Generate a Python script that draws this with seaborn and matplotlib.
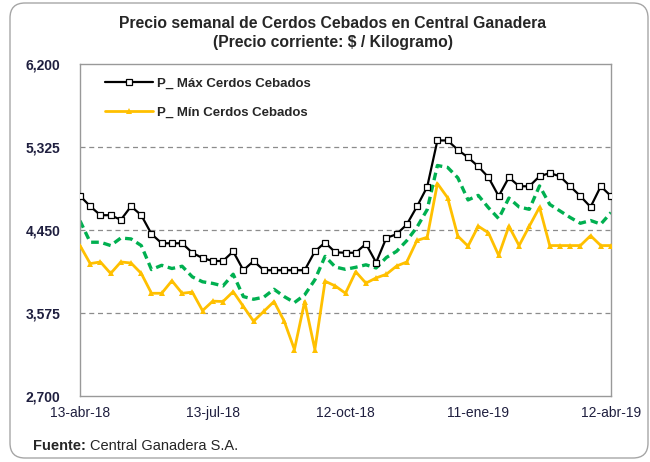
import pandas as pd
import matplotlib.pyplot as plt
import seaborn as sns
from matplotlib.patches import FancyBboxPatch
from matplotlib.ticker import FuncFormatter

# datos semanales (precio $/kg)
precio_max = [4810, 4700, 4606, 4606, 4557, 4700, 4606, 4408, 4310, 4310, 4310, 4210, 4154,
              4123, 4123, 4224, 4026, 4123, 4026, 4026, 4026, 4026, 4026, 4224, 4318, 4215,
              4210, 4210, 4304, 4107, 4367, 4405, 4508, 4698, 4905, 5394, 5394, 5295, 5215,
              5120, 5005, 4807, 5005, 4911, 4911, 5016, 5050, 5016, 4911, 4807, 4693, 4911, 4807]
precio_min = [4286, 4096, 4113, 3992, 4113, 4102, 3992, 3783, 3783, 3915, 3783, 3795, 3600,
              3700, 3696, 3800, 3644, 3488, 3592, 3696, 3488, 3190, 3696, 3190, 3910, 3860,
              3783, 4010, 3890, 3945, 3983, 4070, 4113, 4340, 4373, 4940, 4790, 4385, 4280,
              4490, 4420, 4182, 4490, 4286, 4490, 4690, 4286, 4286, 4286, 4286, 4390, 4286, 4286]
precio_prom = [4547, 4321, 4321, 4286, 4366, 4356, 4286, 4033, 4078, 4044, 4068, 3956, 3904,
               3887, 3860, 3984, 3748, 3720, 3742, 3825, 3748, 3685, 3766, 3925, 4172, 4060,
               4035, 4057, 4083, 4050, 4160, 4225, 4338, 4480, 4665, 5130, 5110, 5000, 4767,
               4815, 4685, 4570, 4787, 4693, 4668, 4915, 4720, 4651, 4582, 4521, 4550, 4512, 4634]
fecha_inicio = '2018-04-13'
etiquetas_x = ['13-abr-18', '13-jul-18', '12-oct-18', '11-ene-19', '12-abr-19']
pos_etiquetas = [0, 13, 26, 39, 52]
ticks_y = [2700, 3575, 4450, 5325, 6200]
nombre_max = 'P_ Máx Cerdos Cebados'
nombre_min = 'P_ Mín Cerdos Cebados'

fechas = pd.date_range(fecha_inicio, periods=len(precio_max), freq='7D')
df = pd.DataFrame({'fecha': fechas, 'max': precio_max, 'min': precio_min, 'prom': precio_prom})

sns.set_theme(style='white')
plt.rcParams['font.family'] = ['Liberation Sans', 'DejaVu Sans']

fig = plt.figure(figsize=(6.5, 4.62), dpi=100)
ax = fig.add_axes([80 / 650, 1 - 396 / 462, 531 / 650, 332 / 462])

sns.lineplot(data=df, x='fecha', y='prom', ax=ax, color='#00B050', lw=2.4,
             linestyle=(0, (2.3, 1.4)), legend=False, zorder=2)
sns.lineplot(data=df, x='fecha', y='min', ax=ax, color='#FFC000', lw=2.0, marker='^',
             markersize=4.5, markeredgewidth=0, label=nombre_min, zorder=3)
sns.lineplot(data=df, x='fecha', y='max', ax=ax, color='black', lw=1.6, marker='s',
             markersize=4.6, markerfacecolor='white', markeredgecolor='black',
             markeredgewidth=0.9, label=nombre_max, zorder=4)

ax.set_xlim(fechas[0], fechas[-1])
ax.set_ylim(ticks_y[0], ticks_y[-1])
ax.set_yticks(ticks_y)
ax.yaxis.set_major_formatter(FuncFormatter(lambda v, p: f'{int(v):,}'))
ax.set_xticks(fechas[pos_etiquetas])
ax.set_xticklabels(etiquetas_x)
ax.set_xlabel('')
ax.set_ylabel('')
for y in ticks_y[1:-1]:
    ax.axhline(y, color='#8c8c8c', lw=0.9, ls=(0, (4, 3)), zorder=1)
for s in ax.spines.values():
    s.set_color('#999999')
    s.set_linewidth(1.0)
ax.tick_params(axis='both', which='major', direction='out', length=4, width=0.8,
               color='#999999', pad=3)
for t in ax.get_xticklabels():
    t.set_fontsize(10)
    t.set_color('#1f1f3f')
for t in ax.get_yticklabels():
    t.set_fontsize(10)
    t.set_fontweight('bold')
    t.set_color('#1f1f3f')
ax.tick_params(axis='y', pad=10)

h, l = ax.get_legend_handles_labels()
orden = [l.index(nombre_max), l.index(nombre_min)]
ax.legend([h[i] for i in orden], [l[i] for i in orden], loc='upper left',
          bbox_to_anchor=(0.048, 0.96), frameon=False, borderpad=0, borderaxespad=0,
          handlelength=3.6, handletextpad=0.3, labelspacing=1.3,
          prop={'weight': 'bold', 'size': 9.5})

fig.text(0.512, 1 - 24 / 462, 'Precio semanal de Cerdos Cebados en Central Ganadera',
         ha='center', va='center', fontsize=11.3, fontweight='bold')
fig.text(0.512, 1 - 43 / 462, '(Precio corriente: $ / Kilogramo)',
         ha='center', va='center', fontsize=11.3, fontweight='bold')
fig.text(33 / 650, 1 - 446 / 462, 'Fuente:', ha='left', va='center', fontsize=10.5,
         fontweight='bold')
fig.text(90 / 650, 1 - 446 / 462, 'Central Ganadera S.A.', ha='left', va='center',
         fontsize=10.5)

borde = FancyBboxPatch((0.10, 0.04), 6.38, 4.55, boxstyle='round,pad=0,rounding_size=0.15',
                       transform=fig.dpi_scale_trans, fill=False, ec='#a6a6a6', lw=1.0)
fig.add_artist(borde)

fig.savefig('out.png', dpi=100)
